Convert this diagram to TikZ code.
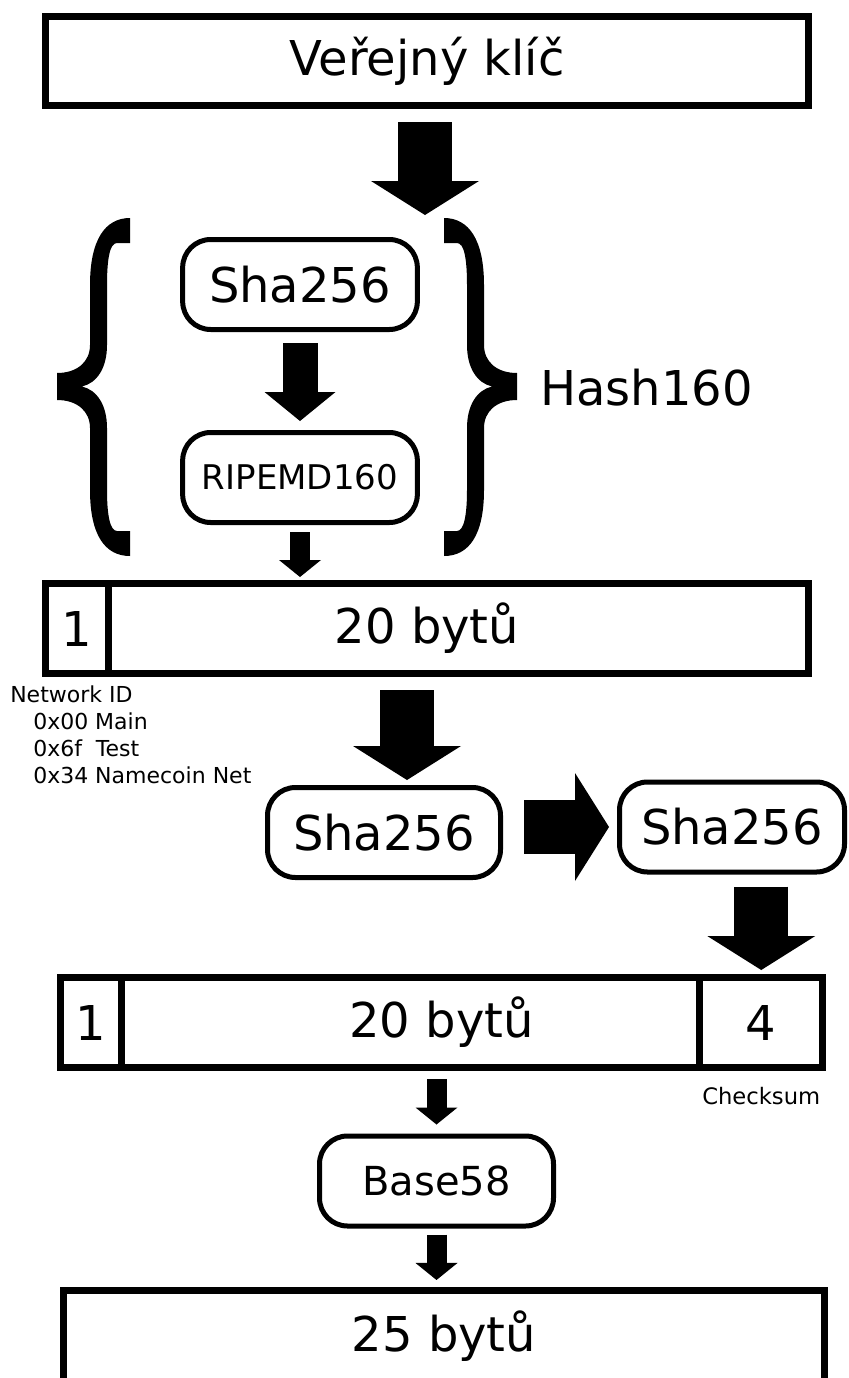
\documentclass[tikz,border=0pt]{standalone}
\usepackage{fontspec}
\setmainfont{DejaVu Sans}
\usetikzlibrary{arrows.meta, positioning}

\begin{document}
\begin{tikzpicture}[
    x=0.75pt, y=-0.75pt,
    cell/.style={draw, line width=5.25pt, inner sep=0pt, minimum height=67.5pt, font=\fontsize{36pt}{40pt}\selectfont},
    hashbox/.style={draw, line width=3.75pt, rounded corners=21pt, inner sep=0pt, minimum width=176pt, minimum height=67.5pt, font=\fontsize{36pt}{40pt}\selectfont},
    note/.style={inner sep=0pt, font=\fontsize{16.5pt}{20.25pt}\selectfont},
    bigarrow/.style={line width=40.5pt, -{Triangle[width=81pt, length=25.5pt, line width=0pt]}},
    midarrow/.style={line width=26.25pt, -{Triangle[width=53.25pt, length=21.75pt, line width=0pt]}},
    smallarrow/.style={line width=15pt, -{Triangle[width=31.5pt, length=12.75pt, line width=0pt]}},
]
    \useasboundingbox (0,0) rectangle (849,1378);
    \clip (0,0) rectangle (849,1378);

    \node[cell, minimum width=572.25pt, minimum height=66.75pt] (key) at (427,61) {Veřejný klíč};
    \coordinate (hashin) at (425,215);

    % Hash160
    \node[hashbox] (sha1) at (300,284.5) {Sha256};
    \node[hashbox, font=\fontsize{25.5pt}{30pt}\selectfont] (ripemd) at (300,477.5) {RIPEMD160};
    \foreach \flip/\off in {1/0, -1/574}
        \fill[shift={(\off,0)}, xscale=\flip] (130,218) .. controls (105,218) and (90,240) .. (90,285) -- (90,345)
            .. controls (90,362) and (77,373) .. (57,373) -- (57,400) .. controls (77,400) and (90,411) .. (90,428)
            -- (90,490) .. controls (90,535) and (105,556) .. (130,556) -- (130,531) -- (117,531)
            .. controls (110,531) and (107,515) .. (107,490) -- (107,428) .. controls (107,405) and (97,390) .. (82,386.5)
            .. controls (97,383) and (107,368) .. (107,345) -- (107,285) .. controls (107,258) and (110,243) .. (117,243)
            -- (130,243) -- cycle;
    \node[anchor=west, inner sep=0pt, font=\fontsize{36pt}{40pt}\selectfont] (hashlbl) at (540,388) {Hash160};

    % address with network id
    \node[cell, minimum width=572.25pt] (addr) at (427,628.5) {20 bytů};
    \node[cell, minimum width=47.6pt] (net) at (77.25,628.5) {1};
    \node[note, anchor=north west, align=left] (netid) at (10,686)
        {Network ID\\\hspace*{17.25pt}0x00 Main\\\hspace*{17.25pt}0x6f\ \ Test\\\hspace*{17.25pt}0x34 Namecoin Net};

    % checksum
    \node[hashbox, minimum width=174.75pt] (sha2) at (384,832.5) {Sha256};
    \node[hashbox, minimum width=168.75pt] (sha3) at (732,827) {Sha256};

    \node[cell, minimum width=571.5pt] (addr3) at (441.5,1022.5) {20 bytů};
    \node[cell, minimum width=46.1pt] (net3) at (91.25,1022.5) {1};
    \node[cell, minimum width=91.9pt] (chk) at (761.25,1022.5) {4};
    \node[note, font=\fontsize{17pt}{20pt}\selectfont, below=12pt of chk] (chklbl) {Checksum};

    \node[hashbox, minimum width=175.5pt, font=\fontsize{30pt}{34pt}\selectfont] (base58) at (436.5,1181) {Base58};
    \node[cell, minimum width=570.75pt, minimum height=67.9pt] (out) at (444,1335.75) {25 bytů};

    \draw[bigarrow, shorten <=9.75pt] (key.south -| hashin) -- (hashin);
    \draw[midarrow, shorten <=8.25pt, shorten >=6.75pt] (sha1) -- (ripemd);
    \draw[smallarrow, shorten <=5.25pt, shorten >=2.25pt] (ripemd.south) -- (ripemd.south |- addr.north);
    \draw[bigarrow, shorten <=9.75pt, shorten >=3.75pt] ([xshift=17.25pt]sha2.north |- addr.south) -- ([xshift=17.25pt]sha2.north);
    \draw[bigarrow, shorten <=15.75pt, shorten >=6pt] (sha3.west -| sha2.east) -- (sha3.west);
    \draw[bigarrow, shorten <=9pt, shorten >=3pt] (sha3.south -| chk.north) -- (chk.north);
    \draw[smallarrow, shorten <=6pt, shorten >=6.75pt] (base58.north |- addr3.south) -- (base58.north);
    \draw[smallarrow, shorten <=4.5pt, shorten >=5.25pt] (base58.south) -- (base58.south |- out.north);
\end{tikzpicture}
\end{document}
